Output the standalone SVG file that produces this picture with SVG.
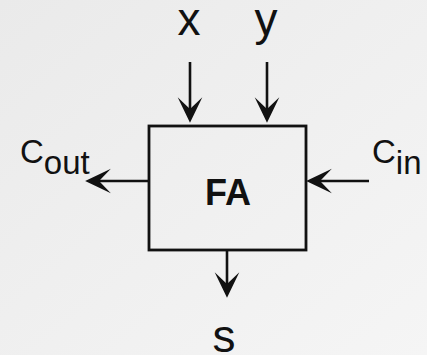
<svg xmlns="http://www.w3.org/2000/svg" width="427" height="355" viewBox="0 0 427 355">
  <style>
    .lbl { font-family: "Liberation Sans", Arial, sans-serif; fill: #111; }
    .big { font-size: 46px; }
    .port { font-size: 33px; }
    .title { font-size: 36px; font-weight: bold; }
    .wire { stroke: #111; stroke-width: 2.6; fill: none; marker-end: url(#head); }
    .box { fill: none; stroke: #111; stroke-width: 2.8; }
  </style>
  <defs>
    <linearGradient id="bg" x1="0" y1="0" x2="1" y2="1">
      <stop offset="0" stop-color="#eaeaea"/>
      <stop offset="1" stop-color="#f5f5f5"/>
    </linearGradient>
    <!-- barbed arrowhead; tip sits 12px beyond the line end -->
    <marker id="head" markerUnits="userSpaceOnUse" markerWidth="30" markerHeight="30"
            viewBox="-14 -14 28 28" refX="0" refY="0" orient="auto" overflow="visible">
      <path d="M12,0 L-12,-11.5 L-1,0 L-12,11.5 Z" fill="#111"/>
    </marker>
  </defs>

  <rect width="427" height="355" fill="url(#bg)"/>

  <g id="connectors">
    <line class="wire" x1="190" y1="62" x2="190" y2="110"/>
    <line class="wire" x1="267" y1="62" x2="267" y2="110"/>
    <line class="wire" x1="149" y1="181" x2="98" y2="181"/>
    <line class="wire" x1="369" y1="181" x2="319" y2="181"/>
    <line class="wire" x1="227" y1="250" x2="227" y2="285"/>
  </g>

  <g id="fa">
    <rect class="box" x="149" y="126" width="157" height="124"/>
    <text class="lbl title" x="228" y="205" text-anchor="middle">FA</text>
  </g>

  <g id="in-x">
    <text class="lbl big" x="189" y="35" text-anchor="middle">x</text>
  </g>
  <g id="in-y">
    <text class="lbl big" x="266" y="35" text-anchor="middle">y</text>
  </g>
  <g id="out-cout">
    <text class="lbl port" x="20" y="163">C<tspan dy="11">out</tspan></text>
  </g>
  <g id="in-cin">
    <text class="lbl port" x="372" y="163">C<tspan dy="11">in</tspan></text>
  </g>
  <g id="out-s">
    <text class="lbl big" x="224" y="352" text-anchor="middle">s</text>
  </g>
</svg>
